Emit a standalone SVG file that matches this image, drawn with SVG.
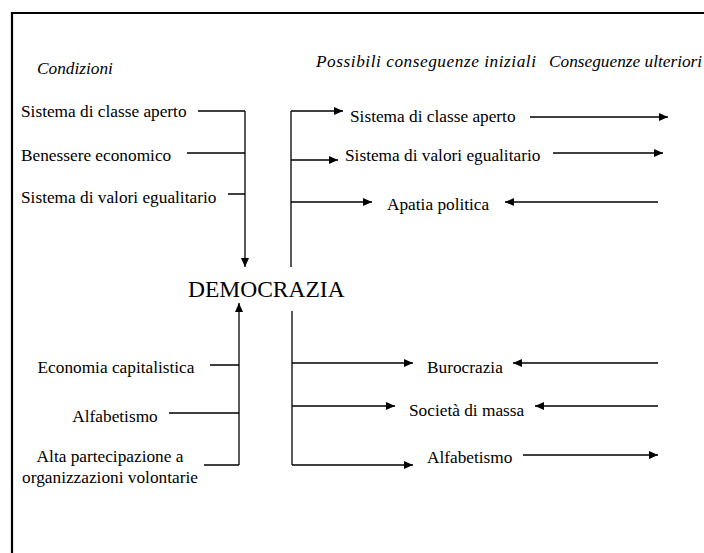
<svg xmlns="http://www.w3.org/2000/svg" width="704" height="553" viewBox="0 0 704 553" font-family="'Liberation Serif', 'Times New Roman', 'DejaVu Serif', serif">
<style>
text{font-family:'Liberation Serif','Times New Roman','DejaVu Serif',serif;font-size:17.3px;fill:#000}
.it{font-style:italic}
.big{font-size:23.5px}
.c{text-anchor:middle}
.ln{stroke:#000;stroke-width:1.3;fill:none}
.ar{stroke:#000;stroke-width:1.3;fill:none;marker-end:url(#ah)}
</style>
<defs>
<marker id="ah" markerUnits="userSpaceOnUse" markerWidth="10" markerHeight="8" refX="9" refY="4" orient="auto">
<path d="M0,0 L9,4 L0,8 Z" fill="#000"/>
</marker>
</defs>
<rect width="704" height="553" fill="#fff"/>
<path d="M12,553 V13 H704" stroke="#000" stroke-width="2.2" fill="none"/>
<g id="headers">
<text class="it" x="37" y="74">Condizioni</text>
<text class="it" x="316" y="67" textLength="220" lengthAdjust="spacing">Possibili conseguenze iniziali</text>
<text class="it" x="549" y="67">Conseguenze ulteriori</text>
</g>
<g id="democrazia"><text class="big" x="188" y="297">DEMOCRAZIA</text></g>
<g id="c1"><text x="21" y="117">Sistema di classe aperto</text></g>
<g id="c2"><text x="21" y="161">Benessere economico</text></g>
<g id="c3"><text x="21" y="203">Sistema di valori egualitario</text></g>
<g id="c4"><text class="c" x="116" y="373">Economia capitalistica</text></g>
<g id="c5"><text class="c" x="115" y="422">Alfabetismo</text></g>
<g id="c6"><text class="c" x="110" y="462">Alta partecipazione a</text><text class="c" x="110" y="483">organizzazioni volontarie</text></g>
<g id="p1"><text x="350" y="122">Sistema di classe aperto</text></g>
<g id="p2"><text x="345" y="161">Sistema di valori egualitario</text></g>
<g id="p3"><text x="387" y="210">Apatia politica</text></g>
<g id="p4"><text x="427" y="373">Burocrazia</text></g>
<g id="p5"><text x="409" y="416">Società di massa</text></g>
<g id="p6"><text x="427" y="463">Alfabetismo</text></g>
<g id="connectors">
<path class="ln" d="M198,111 H245 M187,153 H245 M228,194 H245"/>
<path class="ar" d="M245,111 V267"/>
<path class="ln" d="M210,365 H239 M169,413 H239 M204,465 H239"/>
<path class="ar" d="M239,465 V303"/>
<path class="ln" d="M291,267 V111"/>
<path class="ar" d="M291,111 H343"/>
<path class="ar" d="M291,160 H338"/>
<path class="ar" d="M291,202 H372"/>
<path class="ln" d="M292,311 V465"/>
<path class="ar" d="M292,363 H413"/>
<path class="ar" d="M292,406 H395"/>
<path class="ar" d="M292,465 H413"/>
<path class="ar" d="M530,117 H668"/>
<path class="ar" d="M553,153 H663"/>
<path class="ar" d="M658,202 H505"/>
<path class="ar" d="M658,363 H513"/>
<path class="ar" d="M658,406 H535"/>
<path class="ar" d="M523,455 H658"/>
</g>
</svg>
